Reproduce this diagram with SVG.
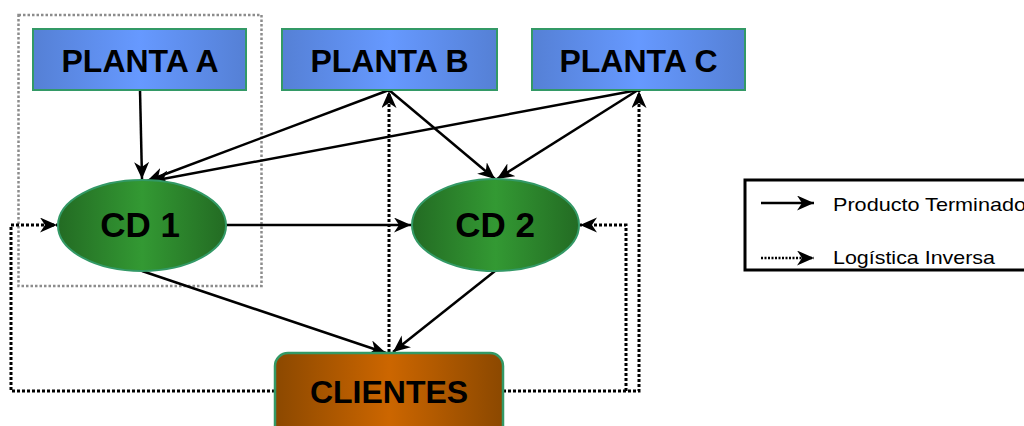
<svg xmlns="http://www.w3.org/2000/svg" width="1024" height="426" viewBox="0 0 1024 426">
  <defs>
    <linearGradient id="gPlanta" x1="0" y1="0" x2="1" y2="0">
      <stop offset="0" stop-color="#5580d5"/>
      <stop offset="0.5" stop-color="#6699ff"/>
      <stop offset="1" stop-color="#5580d5"/>
    </linearGradient>
    <linearGradient id="gCD" x1="0" y1="0" x2="1" y2="0">
      <stop offset="0" stop-color="#236b23"/>
      <stop offset="0.5" stop-color="#339933"/>
      <stop offset="1" stop-color="#236b23"/>
    </linearGradient>
    <linearGradient id="gCli" x1="0" y1="0" x2="1" y2="0">
      <stop offset="0" stop-color="#8b4800"/>
      <stop offset="0.5" stop-color="#cc6600"/>
      <stop offset="1" stop-color="#8b4800"/>
    </linearGradient>
    <marker id="arrow" markerUnits="userSpaceOnUse" markerWidth="20" markerHeight="18" refX="17" refY="7.5" orient="auto">
      <path d="M0,0 L17,7.5 L0,15 L5,7.5 Z" fill="#000"/>
    </marker>
  </defs>
  <style>
    .planta { fill: url(#gPlanta); stroke: #339966; stroke-width: 2; }
    .cd { fill: url(#gCD); stroke: #339966; stroke-width: 2; }
    .cli { fill: url(#gCli); stroke: #339966; stroke-width: 2.5; }
    .lbl { font-family: "Liberation Sans", Arial, sans-serif; font-weight: bold; fill: #000; text-anchor: middle; }
    .solid { fill: none; stroke: #000; stroke-width: 2.5; marker-end: url(#arrow); }
    .dotted { fill: none; stroke: #000; stroke-width: 3; stroke-dasharray: 3 2; marker-end: url(#arrow); }
    .legend { font-family: "Liberation Sans", Arial, sans-serif; font-size: 18.5px; fill: #000; }
  </style>

  <rect width="1024" height="426" fill="#fff"/>

  <!-- grouping outline around PLANTA A and CD 1 -->
  <rect id="grupo-a" x="18.5" y="15" width="243" height="271" fill="none" stroke="#8c8c8c" stroke-width="2.5" stroke-dasharray="2.5 2"/>

  <!-- connectors -->
  <g id="connectors">
    <line class="solid" x1="140" y1="90" x2="142" y2="179"/>
    <line class="solid" x1="389" y1="90" x2="147" y2="181"/>
    <line class="solid" x1="638" y1="90" x2="152" y2="181"/>
    <line class="solid" x1="389" y1="90" x2="495" y2="179"/>
    <line class="solid" x1="638" y1="90" x2="497" y2="179"/>
    <line class="solid" x1="226" y1="225" x2="411" y2="225"/>
    <line class="solid" x1="142" y1="271" x2="386" y2="353"/>
    <line class="solid" x1="495" y1="271" x2="393" y2="352"/>

    <path class="dotted" d="M389,352 V91"/>
    <path class="dotted" d="M503,391 H639 V91"/>
    <path class="dotted" d="M626,391 V225 H580"/>
    <path class="dotted" d="M275,391 H11 V225 H57"/>
  </g>

  <!-- nodes -->
  <g id="planta-a">
    <rect class="planta" x="33" y="29" width="213" height="61"/>
    <text class="lbl" x="140" y="72" font-size="32">PLANTA A</text>
  </g>
  <g id="planta-b">
    <rect class="planta" x="282" y="29" width="215" height="61"/>
    <text class="lbl" x="389.5" y="72" font-size="32">PLANTA B</text>
  </g>
  <g id="planta-c">
    <rect class="planta" x="532" y="29" width="213" height="61"/>
    <text class="lbl" x="638.5" y="72" font-size="32">PLANTA C</text>
  </g>
  <g id="cd1">
    <ellipse class="cd" cx="142" cy="225.5" rx="84" ry="45.5"/>
    <text class="lbl" x="140" y="237" font-size="35">CD 1</text>
  </g>
  <g id="cd2">
    <ellipse class="cd" cx="495.5" cy="225" rx="83.5" ry="46"/>
    <text class="lbl" x="495" y="237" font-size="35">CD 2</text>
  </g>
  <g id="clientes">
    <rect class="cli" x="275" y="353" width="228" height="90" rx="13" ry="13"/>
    <text class="lbl" x="389" y="403" font-size="32">CLIENTES</text>
  </g>

  <!-- legend -->
  <g id="legend">
    <rect x="745" y="180" width="300" height="90" fill="#fff" stroke="#000" stroke-width="3"/>
    <line class="solid" x1="761" y1="203" x2="814" y2="203"/>
    <line class="dotted" x1="761" y1="258" x2="814" y2="258" style="stroke-width:2.5;stroke-dasharray:2 1.5"/>
    <text class="legend" x="833" y="211" textLength="193" lengthAdjust="spacingAndGlyphs">Producto Terminado</text>
    <text class="legend" x="833" y="264" textLength="162" lengthAdjust="spacingAndGlyphs">Logística Inversa</text>
  </g>
</svg>
